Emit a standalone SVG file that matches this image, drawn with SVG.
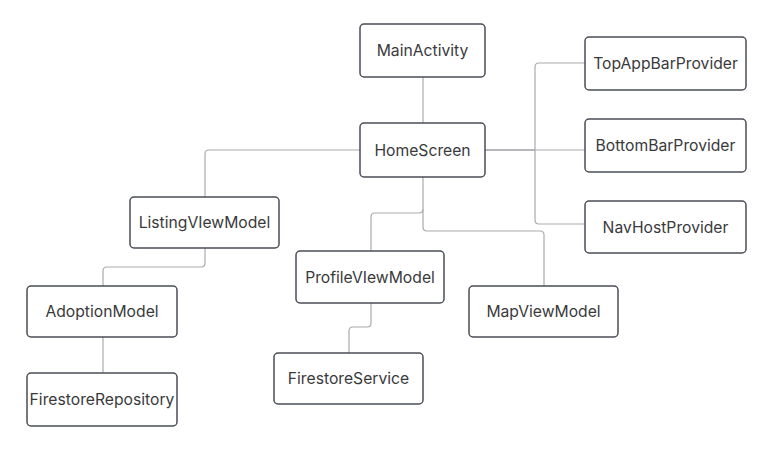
<svg xmlns="http://www.w3.org/2000/svg" width="783" height="453" viewBox="0 0 783 453">
<style>
.box{fill:#ffffff;stroke:#4b4e57;stroke-width:1.5}
.lbl{font-family:Inter,"Noto Sans",sans-serif;font-size:15.7px;fill:#3a3a3c;text-anchor:middle;dominant-baseline:central}
.c{fill:none;stroke:#a9abb0;stroke-width:1.2;stroke-linejoin:round}
.cd{fill:none;stroke:#6d717a;stroke-width:1.2}
</style>
<rect width="783" height="453" fill="#ffffff"/>
<g id="connectors">
<path class="c" d="M423 77V123"/>
<path class="cd" d="M485 150H535"/>
<path class="c" d="M585 63H539Q535 63 535 67V220Q535 224 539 224H585"/>
<path class="c" d="M535 150H585"/>
<path class="c" d="M360 150H209Q205 150 205 154V197"/>
<path class="c" d="M205 248V263Q205 267 201 267H107Q103 267 103 271V286"/>
<path class="c" d="M103 337V373"/>
<path class="c" d="M423 177V209Q423 213 419 213H375Q371 213 371 217V251"/>
<path class="c" d="M423 209V227Q423 231 427 231H540Q544 231 544 235V286"/>
<path class="c" d="M371 303V323Q371 327 367 327H353Q349 327 349 331V353"/>
</g>
<g id="MainActivity"><rect class="box" x="360" y="24" width="125" height="53" rx="4"/><text class="lbl" x="422.5" y="50.5">MainActivity</text></g>
<g id="HomeScreen"><rect class="box" x="360" y="123" width="125" height="54" rx="4"/><text class="lbl" x="422.5" y="150">HomeScreen</text></g>
<g id="TopAppBarProvider"><rect class="box" x="585" y="37" width="161" height="53" rx="4"/><text class="lbl" x="665.5" y="63.5">TopAppBarProvider</text></g>
<g id="BottomBarProvider"><rect class="box" x="585" y="119" width="161" height="53" rx="4"/><text class="lbl" x="665.5" y="145.5">BottomBarProvider</text></g>
<g id="NavHostProvider"><rect class="box" x="585" y="201" width="161" height="52" rx="4"/><text class="lbl" x="665.5" y="227">NavHostProvider</text></g>
<g id="ListingViewModel"><rect class="box" x="130" y="197" width="149" height="51" rx="4"/><text class="lbl" x="204.5" y="222.5">ListingVIewModel</text></g>
<g id="AdoptionModel"><rect class="box" x="27" y="286" width="150" height="51" rx="4"/><text class="lbl" x="102" y="311.5">AdoptionModel</text></g>
<g id="FirestoreRepository"><rect class="box" x="27" y="373" width="150" height="53" rx="4"/><text class="lbl" x="102" y="399.5">FirestoreRepository</text></g>
<g id="ProfileViewModel"><rect class="box" x="296" y="251" width="148" height="52" rx="4"/><text class="lbl" x="370" y="277">ProfileVIewModel</text></g>
<g id="MapViewModel"><rect class="box" x="469" y="286" width="149" height="51" rx="4"/><text class="lbl" x="543.5" y="311.5">MapViewModel</text></g>
<g id="FirestoreService"><rect class="box" x="274" y="353" width="149" height="51" rx="4"/><text class="lbl" x="348.5" y="378.5">FirestoreService</text></g>
</svg>
